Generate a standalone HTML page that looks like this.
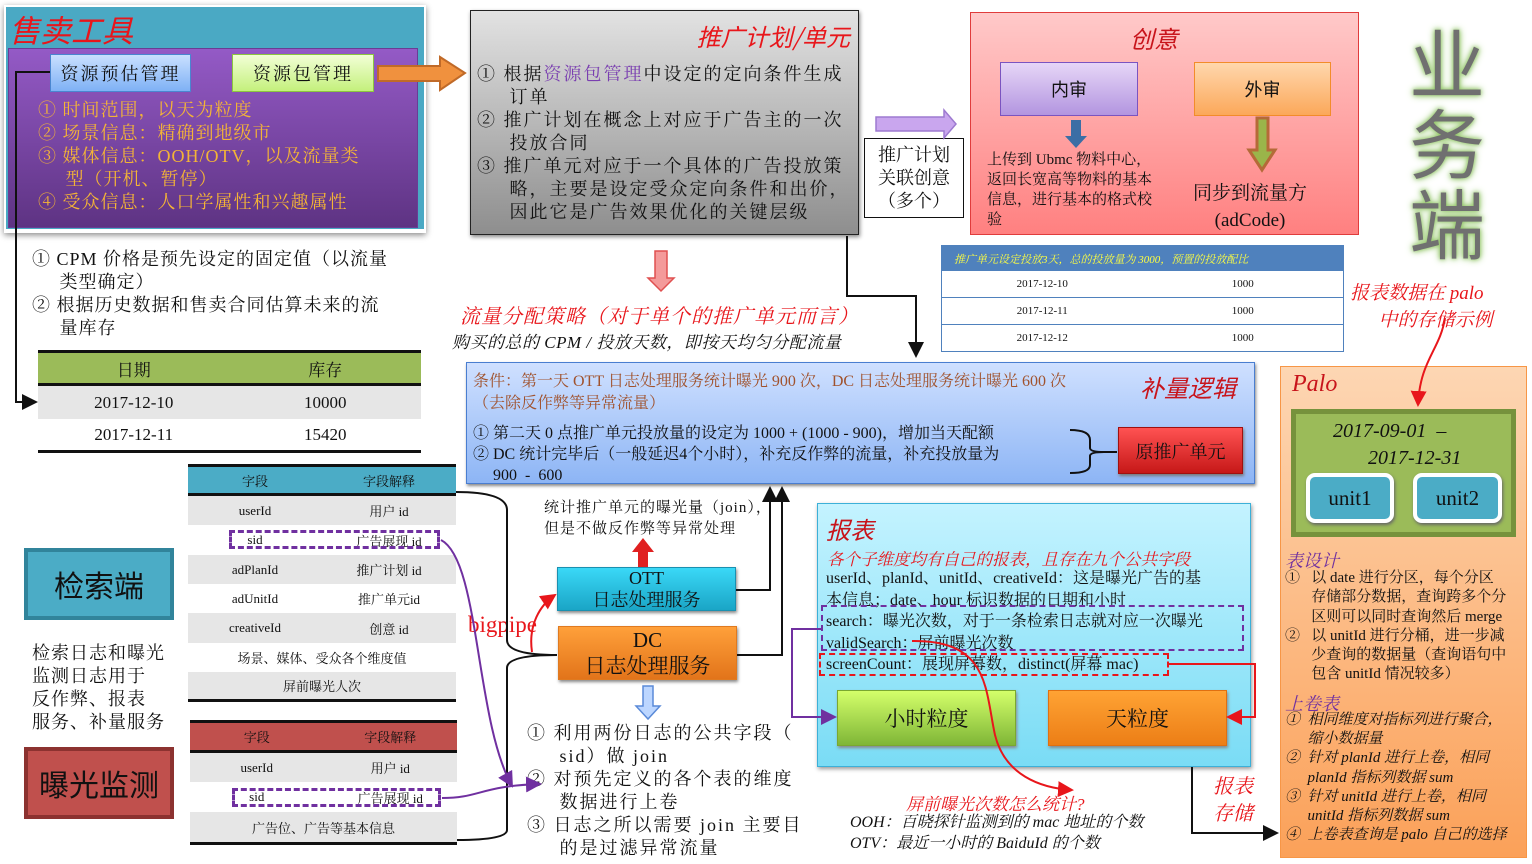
<!DOCTYPE html>
<html><head><meta charset="utf-8"><style>
*{margin:0;padding:0;box-sizing:border-box}
body{width:1532px;height:864px;position:relative;background:#fff;overflow:hidden;font-family:"Liberation Serif","Noto Serif CJK SC",serif;color:#111}
.a{position:absolute}
.c{display:flex;align-items:center;justify-content:center;text-align:center}
.it{font-style:italic}
.red{color:#e8161b}
.tbl{position:absolute}
.row{position:absolute;left:0;right:0;display:flex;align-items:center;font-size:13px}
.row span{flex:1;text-align:center}
</style></head><body>

<!-- 售卖工具 -->
<div class="a" style="left:4px;top:5px;width:422px;height:228px;box-shadow:0 2px 6px #888;background:#fff"></div>
<div class="a" style="left:6px;top:7px;width:418px;height:222px;background:#4aa9c4"></div>
<div class="a" style="left:8px;top:48px;width:410px;height:180px;background:linear-gradient(#945ac6,#5e3383);border:1px solid #6a3d94"></div>
<div class="a it red" style="left:9px;top:10px;font-size:31px;font-family:'Noto Sans CJK SC',sans-serif;line-height:38px">售卖工具</div>
<div class="a c" style="left:50px;top:54px;width:141px;height:38px;background:linear-gradient(#c9e0ff,#7fb1f5);border:1px solid #4a86d0;font-size:18px;letter-spacing:2px">资源预估管理</div>
<div class="a c" style="left:232px;top:54px;width:142px;height:38px;background:linear-gradient(#f2ffd6,#c4f07c);border:1px solid #8cc63f;font-size:18px;letter-spacing:2px">资源包管理</div>
<div class="a" style="left:38px;top:99px;font-size:18px;line-height:23px;color:#f4b436;letter-spacing:1px">① 时间范围，以天为粒度<br>② 场景信息：精确到地级市<br>③ 媒体信息：OOH/OTV，以及流量类<br>&nbsp;&nbsp;&nbsp;&nbsp;&nbsp;型（开机、暂停）<br>④ 受众信息：人口学属性和兴趣属性</div>

<div class="a" style="left:32px;top:248px;font-size:18px;line-height:23px;letter-spacing:1px">① CPM 价格是预先设定的固定值（以流量<br>&nbsp;&nbsp;&nbsp;&nbsp;&nbsp;类型确定）<br>② 根据历史数据和售卖合同估算未来的流<br>&nbsp;&nbsp;&nbsp;&nbsp;&nbsp;量库存</div>
<div class="tbl" style="left:38px;top:350px;width:383px;height:106px">
 <div class="row" style="top:0;height:36px;background:#9bbb59;border-top:3px solid #111;border-bottom:3px solid #111;font-size:17px"><span>日期</span><span>库存</span></div>
 <div class="row" style="top:36px;height:33px;background:#e6e6e6;font-size:17px"><span>2017-12-10</span><span>10000</span></div>
 <div class="row" style="top:69px;height:34px;background:#fff;border-bottom:3px solid #111;font-size:17px"><span>2017-12-11</span><span>15420</span></div>
</div>

<!-- 推广计划 -->
<div class="a" style="left:470px;top:10px;width:389px;height:225px;background:linear-gradient(#e2e2e2,#8e8e8e);border:1.5px solid #222;box-shadow:1px 2px 4px #888"></div>
<div class="a it red" style="left:680px;top:18px;width:170px;text-align:right;font-size:24px;font-family:'Noto Sans CJK SC',sans-serif">推广计划/单元</div>
<div class="a" style="left:477px;top:63px;font-size:18px;line-height:23px;letter-spacing:2px">① 根据<span style="color:#7a3fb0">资源包管理</span>中设定的定向条件生成<br>&nbsp;&nbsp;&nbsp;&nbsp;&nbsp;订单<br>② 推广计划在概念上对应于广告主的一次<br>&nbsp;&nbsp;&nbsp;&nbsp;&nbsp;投放合同<br>③ 推广单元对应于一个具体的广告投放策<br>&nbsp;&nbsp;&nbsp;&nbsp;&nbsp;略，主要是设定受众定向条件和出价，<br>&nbsp;&nbsp;&nbsp;&nbsp;&nbsp;因此它是广告效果优化的关键层级</div>
<div class="a it red" style="left:460px;top:300px;font-size:20px;letter-spacing:1px">流量分配策略（对于单个的推广单元而言）</div>
<div class="a it" style="left:452px;top:328px;font-size:17px;letter-spacing:.5px">购买的总的 CPM / 投放天数，即按天均匀分配流量</div>

<div class="a c" style="left:864px;top:138px;width:100px;height:80px;border:1.5px solid #111;font-size:18px;line-height:23px;background:#fff">推广计划<br>关联创意<br>（多个）</div>

<!-- 创意 -->
<div class="a" style="left:970px;top:12px;width:389px;height:223px;background:linear-gradient(#ffc9c9,#ff8080);border:1.5px solid #e03c3c"></div>
<div class="a it red" style="left:1130px;top:20px;font-size:24px;font-family:'Noto Sans CJK SC',sans-serif;color:#c8141b">创意</div>
<div class="a c" style="left:1000px;top:62px;width:138px;height:54px;background:linear-gradient(#e6d6f7,#b395e0);border:1.5px solid #7b54c0;font-size:18px;font-family:'Noto Sans CJK SC',sans-serif">内审</div>
<div class="a c" style="left:1194px;top:62px;width:137px;height:54px;background:linear-gradient(#ffd7ad,#fba85a);border:1.5px solid #f28c2a;font-size:18px;font-family:'Noto Sans CJK SC',sans-serif">外审</div>
<div class="a" style="left:987px;top:150px;font-size:15px;line-height:20px">上传到 Ubmc 物料中心，<br>返回长宽高等物料的基本<br>信息，进行基本的格式校<br>验</div>
<div class="a" style="left:1193px;top:180px;font-size:19px;line-height:27px;text-align:center">同步到流量方<br>(adCode)</div>

<!-- 业务端 -->
<div class="a" style="left:1402px;top:20px;width:90px;font-size:76px;line-height:80px;color:#707070;text-shadow:0 0 8px #8fc463,0 0 4px #8fc463;font-family:'Noto Sans CJK SC',sans-serif;text-align:center">业<br>务<br>端</div>

<!-- 投放配比表 -->
<div class="tbl" style="left:941px;top:245px;width:403px;height:107px;border:1.5px solid #4f81bd">
 <div class="row" style="top:0;height:25px;background:#4f81bd;color:#ffff40;font-size:11px;font-style:italic;justify-content:flex-start;padding-left:12px">推广单元设定投放3天，总的投放量为 3000，预置的投放配比</div>
 <div class="row" style="top:25px;height:27px;border-bottom:1.5px solid #4f81bd;font-size:11px"><span>2017-12-10</span><span>1000</span></div>
 <div class="row" style="top:52px;height:27px;border-bottom:1.5px solid #4f81bd;font-size:11px"><span>2017-12-11</span><span>1000</span></div>
 <div class="row" style="top:79px;height:26px;font-size:11px"><span>2017-12-12</span><span>1000</span></div>
</div>
<div class="a it red" style="left:1350px;top:280px;font-size:19px;line-height:27px">报表数据在 palo<br>&nbsp;&nbsp;&nbsp;&nbsp;&nbsp;&nbsp;中的存储示例</div>

<!-- 补量逻辑 -->
<div class="a" style="left:466px;top:362px;width:789px;height:122px;background:linear-gradient(#cfe0ff,#8db5f5);border:1.5px solid #4a7ed0;box-shadow:1px 2px 3px #888"></div>
<div class="a" style="left:473px;top:371px;font-size:16px;line-height:22px;color:#a0522d">条件：第一天 OTT 日志处理服务统计曝光 900 次，DC 日志处理服务统计曝光 600 次<br>（去除反作弊等异常流量）</div>
<div class="a it" style="left:1140px;top:369px;font-size:24px;color:#c8141b;font-family:'Noto Sans CJK SC',sans-serif">补量逻辑</div>
<div class="a" style="left:473px;top:423px;font-size:16px;line-height:21px">① 第二天 0 点推广单元投放量的设定为 1000 + (1000 - 900)，增加当天配额<br>② DC 统计完毕后（一般延迟4个小时），补充反作弊的流量，补充投放量为<br>&nbsp;&nbsp;&nbsp;&nbsp;&nbsp;900 &nbsp;- &nbsp;600</div>
<div class="a c" style="left:1118px;top:427px;width:125px;height:47px;background:linear-gradient(#ff5252,#c61818);border:1px solid #a01010;font-size:18px;box-shadow:1px 2px 3px #777">原推广单元</div>

<!-- 检索端 -->
<div class="a c" style="left:24px;top:548px;width:150px;height:72px;background:#4bacc6;border:4px solid #31849b;font-size:30px;font-family:'Noto Sans CJK SC',sans-serif">检索端</div>
<div class="a" style="left:32px;top:642px;font-size:18px;line-height:23px;letter-spacing:1px">检索日志和曝光<br>监测日志用于<br>反作弊、报表<br>服务、补量服务</div>
<div class="a c" style="left:24px;top:747px;width:150px;height:72px;background:#c0504d;border:4px solid #8c3230;font-size:30px;font-family:'Noto Sans CJK SC',sans-serif">曝光监测</div>

<div class="tbl" style="left:188px;top:464px;width:268px;height:238px">
 <div class="row" style="top:0;height:32px;background:#4bacc6;border-top:3px solid #111;border-bottom:3px solid #111"><span>字段</span><span>字段解释</span></div>
 <div class="row" style="top:32px;height:29px;background:#e6e6e6"><span>userId</span><span>用户 id</span></div>
 <div class="row" style="top:61px;height:30px"><span>sid</span><span>广告展现 id</span></div>
 <div class="row" style="top:91px;height:29px;background:#e6e6e6"><span>adPlanId</span><span>推广计划 id</span></div>
 <div class="row" style="top:120px;height:29px"><span>adUnitId</span><span>推广单元id</span></div>
 <div class="row" style="top:149px;height:30px;background:#e6e6e6"><span>creativeId</span><span>创意 id</span></div>
 <div class="row" style="top:179px;height:29px"><span>场景、媒体、受众各个维度值</span></div>
 <div class="row" style="top:208px;height:30px;background:#e6e6e6;border-bottom:3px solid #111"><span>屏前曝光人次</span></div>
</div>
<div class="a" style="left:229px;top:530px;width:211px;height:19px;border:3px dashed #7030a0"></div>

<div class="tbl" style="left:190px;top:720px;width:267px;height:127px">
 <div class="row" style="top:0;height:33px;background:#c0504d;border-top:3px solid #111;border-bottom:3px solid #111"><span>字段</span><span>字段解释</span></div>
 <div class="row" style="top:33px;height:29px;background:#e6e6e6"><span>userId</span><span>用户 id</span></div>
 <div class="row" style="top:62px;height:30px"><span>sid</span><span>广告展现 id</span></div>
 <div class="row" style="top:92px;height:33px;background:#e6e6e6;border-bottom:3px solid #111"><span>广告位、广告等基本信息</span></div>
</div>
<div class="a" style="left:232px;top:788px;width:209px;height:19px;border:3px dashed #7030a0"></div>

<!-- OTT / DC -->
<div class="a" style="left:544px;top:498px;font-size:15px;line-height:21px;letter-spacing:1px">统计推广单元的曝光量（join），<br>但是不做反作弊等异常处理</div>
<div class="a c" style="left:557px;top:567px;width:179px;height:44px;background:linear-gradient(#3ad8f7,#1aa5c6);border:1px solid #1a90b0;font-size:18px;line-height:22px;box-shadow:1px 2px 3px #888">OTT<br>日志处理服务</div>
<div class="a c" style="left:558px;top:626px;width:179px;height:54px;background:linear-gradient(#ffa03a,#e2741a);border:1px solid #e07a20;font-size:21px;line-height:26px;box-shadow:1px 2px 3px #888">DC<br>日志处理服务</div>
<div class="a red" style="left:468px;top:612px;font-size:23px">bigpipe</div>
<div class="a" style="left:527px;top:722px;font-size:18px;line-height:23px;letter-spacing:2px">① 利用两份日志的公共字段（<br>&nbsp;&nbsp;&nbsp;&nbsp;&nbsp;sid）做 join<br>② 对预先定义的各个表的维度<br>&nbsp;&nbsp;&nbsp;&nbsp;&nbsp;数据进行上卷<br>③ 日志之所以需要 join 主要目<br>&nbsp;&nbsp;&nbsp;&nbsp;&nbsp;的是过滤异常流量</div>

<!-- 报表 -->
<div class="a" style="left:817px;top:503px;width:434px;height:264px;background:linear-gradient(#c4f3ff,#7adcf5);border:1.5px solid #3cb0d8;box-shadow:1px 2px 4px #999"></div>
<div class="a it red" style="left:826px;top:511px;font-size:24px;color:#c8141b;font-family:'Noto Sans CJK SC',sans-serif">报表</div>
<div class="a it red" style="left:827px;top:546px;font-size:16.5px">各个子维度均有自己的报表，且存在九个公共字段</div>
<div class="a" style="left:826px;top:568px;font-size:16px;line-height:21.5px">userId、planId、unitId、creativeId：这是曝光广告的基<br>本信息；date、hour 标识数据的日期和小时<br>search：曝光次数，对于一条检索日志就对应一次曝光<br>validSearch：屏前曝光次数<br>screenCount：展现屏幕数，distinct(屏幕 mac)</div>
<div class="a" style="left:821px;top:605px;width:423px;height:46px;border:2px dashed #7030a0"></div>
<div class="a" style="left:819px;top:653px;width:350px;height:23px;border:2px dashed #e8161b"></div>
<div class="a c" style="left:837px;top:690px;width:179px;height:56px;background:linear-gradient(#d4ff6a,#7fb637);border:1px solid #7aa830;font-size:21px;box-shadow:1px 2px 3px #888">小时粒度</div>
<div class="a c" style="left:1048px;top:690px;width:179px;height:56px;background:linear-gradient(#ffa334,#ec7e16);border:1px solid #e07010;font-size:21px;box-shadow:1px 2px 3px #888">天粒度</div>
<div class="a it red" style="left:906px;top:790px;font-size:17px">屏前曝光次数怎么统计?</div>
<div class="a it" style="left:850px;top:812px;font-size:16px;line-height:21px">OOH：百晓探针监测到的 mac 地址的个数<br>OTV：最近一小时的 BaiduId 的个数</div>
<div class="a it red" style="left:1213px;top:774px;font-size:20px;line-height:27px">报表<br>存储</div>

<!-- Palo -->
<div class="a" style="left:1280px;top:366px;width:247px;height:492px;background:linear-gradient(#fdd6b3,#fba159);border:1.5px solid #f79646"></div>
<div class="a it" style="left:1292px;top:371px;font-size:24px;color:#c8141b">Palo</div>
<div class="a" style="left:1291px;top:409px;width:225px;height:128px;background:#9bbb59;border:5px solid #76923c"></div>
<div class="a it" style="left:1333px;top:418px;font-size:20px;line-height:27px">2017-09-01 &nbsp;–<br>&nbsp;&nbsp;&nbsp;&nbsp;&nbsp;&nbsp;&nbsp;2017-12-31</div>
<div class="a c" style="left:1306px;top:473px;width:88px;height:50px;background:#4bacc6;border:4px solid #fff;border-radius:9px;font-size:21px;box-shadow:1px 2px 3px #666">unit1</div>
<div class="a c" style="left:1413px;top:473px;width:89px;height:50px;background:#4bacc6;border:4px solid #fff;border-radius:9px;font-size:21px;box-shadow:1px 2px 3px #666">unit2</div>
<div class="a it" style="left:1285px;top:547px;font-size:18px;color:#7030a0">表设计</div>
<div class="a" style="left:1285px;top:569px;font-size:15px;line-height:19.3px">①&nbsp;&nbsp; 以 date 进行分区，每个分区<br>&nbsp;&nbsp;&nbsp;&nbsp;&nbsp;&nbsp;&nbsp;存储部分数据，查询跨多个分<br>&nbsp;&nbsp;&nbsp;&nbsp;&nbsp;&nbsp;&nbsp;区则可以同时查询然后 merge<br>②&nbsp;&nbsp; 以 unitId 进行分桶，进一步减<br>&nbsp;&nbsp;&nbsp;&nbsp;&nbsp;&nbsp;&nbsp;少查询的数据量（查询语句中<br>&nbsp;&nbsp;&nbsp;&nbsp;&nbsp;&nbsp;&nbsp;包含 unitId 情况较多）</div>
<div class="a it" style="left:1285px;top:690px;font-size:18px;color:#7030a0">上卷表</div>
<div class="a it" style="left:1285px;top:711px;font-size:15px;line-height:19.2px">①&nbsp; 相同维度对指标列进行聚合，<br>&nbsp;&nbsp;&nbsp;&nbsp;&nbsp;&nbsp;缩小数据量<br>②&nbsp; 针对 planId 进行上卷，相同<br>&nbsp;&nbsp;&nbsp;&nbsp;&nbsp;&nbsp;planId 指标列数据 sum<br>③&nbsp; 针对 unitId 进行上卷，相同<br>&nbsp;&nbsp;&nbsp;&nbsp;&nbsp;&nbsp;unitId 指标列数据 sum<br>④&nbsp; 上卷表查询是 palo 自己的选择</div>

<!-- connectors -->
<svg class="a" style="left:0;top:0" width="1532" height="864" viewBox="0 0 1532 864">
<defs>
<marker id="k" markerWidth="8" markerHeight="8" refX="7" refY="4" orient="auto"><path d="M0,0 L8,4 L0,8z" fill="#111"/></marker>
<marker id="r" markerWidth="8" markerHeight="8" refX="7" refY="4" orient="auto"><path d="M0,0 L8,4 L0,8z" fill="#e8161b"/></marker>
<marker id="p" markerWidth="8" markerHeight="8" refX="7" refY="4" orient="auto"><path d="M0,0 L8,4 L0,8z" fill="#7030a0"/></marker>
</defs>
<path d="M378,66 L440,66 L440,57 L465,73 L440,90 L440,81 L378,81z" fill="#f0913e" stroke="#c06a28" stroke-width="2"/>
<path d="M50,72 L16,72 L16,402 L36,402" fill="none" stroke="#111" stroke-width="2" marker-end="url(#k)"/>
<path d="M655,251 L667,251 L667,278 L674,278 L661,291 L648,278 L655,278z" fill="#f49a9a" stroke="#e05050" stroke-width="1.5"/>
<path d="M847,236 L847,296 L916,296 L916,356" fill="none" stroke="#111" stroke-width="2" marker-end="url(#k)"/>
<path d="M876,117 L944,117 L944,110 L956,124 L944,138 L944,131 L876,131z" fill="#c9a6ee" stroke="#9d7ad0" stroke-width="1.5"/>
<path d="M1071,120 L1081,120 L1081,136 L1087,136 L1076,148 L1065,136 L1071,136z" fill="#3b6ea5"/>
<path d="M1257,118 L1268,118 L1268,150 L1275,150 L1262,170 L1249,150 L1257,150z" fill="#9ab54a" stroke="#b56a38" stroke-width="3"/>
<path d="M1445,318 C1440,350 1420,360 1418,405" fill="none" stroke="#e8161b" stroke-width="2" marker-end="url(#r)"/>
<path d="M1070,430 Q1090,430 1090,440 L1090,448 Q1090,452 1104,452 Q1090,452 1090,456 L1090,465 Q1090,473 1070,473" fill="none" stroke="#111" stroke-width="2"/>
<line x1="1104" y1="452" x2="1117" y2="452" stroke="#111" stroke-width="2"/>
<path d="M456,492 Q507,492 507,510 L507,640 Q507,655 557,655" fill="none" stroke="#111" stroke-width="2"/>
<path d="M557,655 Q507,655 507,668 L507,830 Q507,840 457,840" fill="none" stroke="#111" stroke-width="2"/>
<path d="M736,590 L770,590 L770,488" fill="none" stroke="#111" stroke-width="2" marker-end="url(#k)"/>
<path d="M737,655 L782,655 L782,488" fill="none" stroke="#111" stroke-width="2" marker-end="url(#k)"/>
<path d="M638,567 L648,567 L648,552 L654,552 L643,538 L632,552 L638,552z" fill="#e02020"/>
<path d="M643,686 L653,686 L653,706 L660,706 L648,719 L636,706 L643,706z" fill="#bcd6ff" stroke="#5a8ad8" stroke-width="1.5"/>
<path d="M532,652 C528,625 540,605 555,595" fill="none" stroke="#e8161b" stroke-width="2" marker-end="url(#r)"/>
<path d="M441,540 C480,560 475,720 512,786" fill="none" stroke="#7030a0" stroke-width="2" marker-end="url(#p)"/>
<path d="M442,798 C480,798 480,786 540,784" fill="none" stroke="#7030a0" stroke-width="2" marker-end="url(#p)"/>
<path d="M821,629 L792,629 L792,717 L835,717" fill="none" stroke="#7030a0" stroke-width="2" marker-end="url(#p)"/>
<path d="M1168,664 L1255,664 L1255,717 L1228,717" fill="none" stroke="#e8161b" stroke-width="2" marker-end="url(#r)"/>
<path d="M912,641 C990,640 985,690 995,735 C1005,775 1040,788 1072,790" fill="none" stroke="#e8161b" stroke-width="2" marker-end="url(#r)"/>
<path d="M1192,767 L1192,833 L1277,833" fill="none" stroke="#111" stroke-width="2" marker-end="url(#k)"/>
</svg>
</body></html>
